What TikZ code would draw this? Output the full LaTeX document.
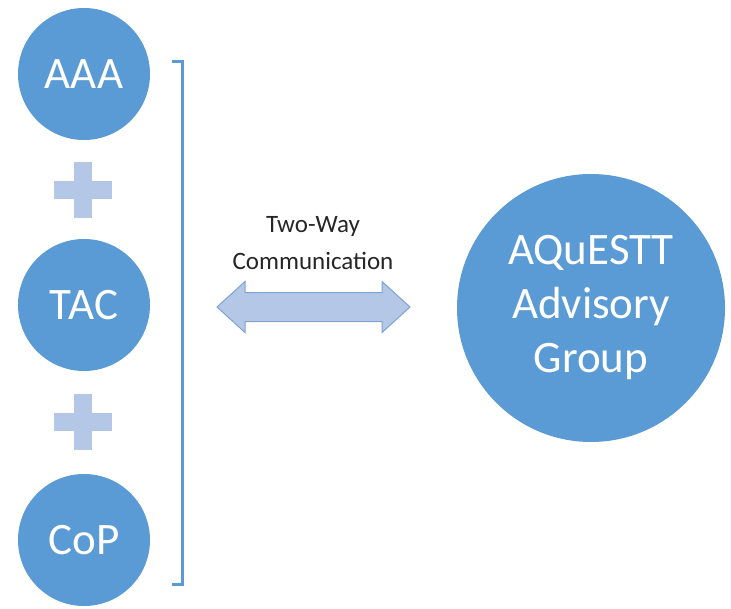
\documentclass[tikz,border=0pt]{standalone}
\usepackage{fontspec}
\setmainfont{Carlito}
\definecolor{qblue}{HTML}{5B9BD5}
\definecolor{qlight}{HTML}{B4C7E7}
\definecolor{qedge}{HTML}{7FA2D4}

\begin{document}
\begin{tikzpicture}[x=1pt,y=-1pt]
\tikzset{member/.style = {shape=circle,fill=qblue,text=white,minimum size=132pt,inner sep=0pt,font=\fontsize{45}{54}\selectfont}}
\tikzset{group/.style = {member,minimum size=268pt,align=center}}
\tikzset{plus/.style = {fill=qlight,draw=none}}
\tikzset{brace/.style = {draw=qblue,line width=3pt}}
\tikzset{dblarrow/.style = {fill=qlight,draw=qedge,line width=1pt,line join=miter}}
\useasboundingbox (0,0) rectangle (731,608);
\node[member] (aaa) at (84,74) {AAA};
\node[member] (tac) at (84,305) {TAC};
\node[member] (cop) at (84,540) {CoP};
\node[group] (aquestt) at (591,308) {AQuESTT\\Advisory\\Group};
% plus signs between the circles
\foreach \y in {190,422} {
  \fill[plus] (54,\y-9) rectangle (112,\y+9);
  \fill[plus] (74,\y-28) rectangle (92,\y+28);
}
% bracket
\coordinate (btop) at (172,61);
\coordinate (bbot) at (172,584);
\draw[brace] (btop) -- ++(10,0) |- (bbot);
% two-way arrow
\node[align=center,font=\fontsize{25}{37}\selectfont,text=black!85] (label) at (313,243) {Two-Way\\Communication};
\draw[dblarrow] (217,307) -- (245,281.5) -- (245,292.5) -- (382,292.5) -- (382,281.5) -- (410,307)
  -- (382,332.5) -- (382,321.5) -- (245,321.5) -- (245,332.5) -- cycle;
\end{tikzpicture}
\end{document}
